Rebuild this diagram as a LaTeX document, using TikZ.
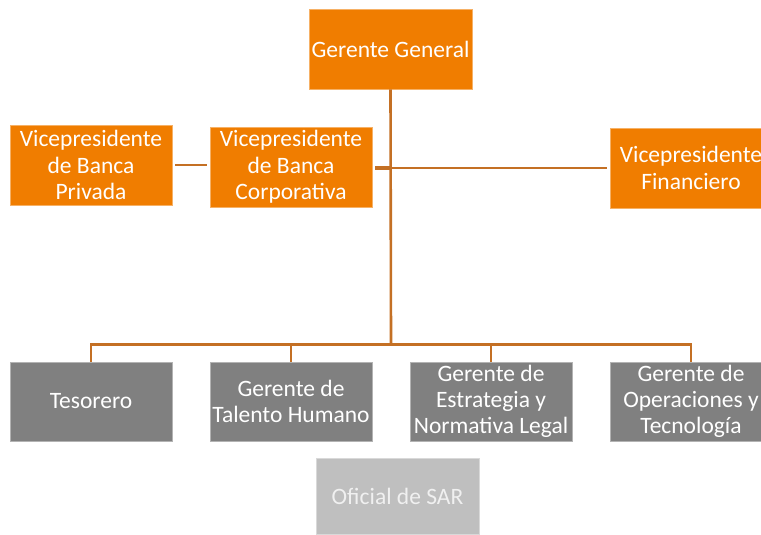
\documentclass[tikz,border=0pt]{standalone}
\usepackage{fontspec}
\setmainfont{Carlito}
\definecolor{boxorange}{RGB}{240,125,0}
\definecolor{boxgray}{RGB}{128,128,128}
\definecolor{boxlight}{RGB}{191,191,191}
\definecolor{linebrown}{RGB}{196,112,36}
\tikzset{
  obox/.style={rectangle, fill=boxorange, draw=boxorange!60!white, line width=0.6pt,
    minimum width=162pt, minimum height=80pt, inner sep=0pt, align=center,
    text=white, font=\fontsize{23.5pt}{26.5pt}\selectfont},
  gbox/.style={rectangle, fill=boxgray, draw=boxgray!60!white, line width=0.6pt,
    minimum width=162pt, minimum height=79pt, inner sep=0pt, align=center,
    text=white, font=\fontsize{23.5pt}{26pt}\selectfont},
  lbox/.style={rectangle, fill=boxlight, draw=boxlight!60!white, line width=0.6pt,
    minimum width=163pt, minimum height=76pt, inner sep=0pt, align=center,
    text=white!94!black, font=\fontsize{23.5pt}{26.5pt}\selectfont},
  conn/.style={draw=linebrown, line width=2.6pt},
}
\begin{document}
\begin{tikzpicture}[x=1pt,y=-1pt]
\useasboundingbox (0,0) rectangle (761,535);
\clip (0,0) rectangle (761,535);
\fill[white] (0,0) rectangle (761,535);
\node[obox, minimum width=163pt] (gg) at (390.5,49) {Gerente General};
\node[obox] (priv) at (91,165) {Vicepresidente\\de Banca\\Privada};
\node[obox] (corp) at (291,167) {Vicepresidente\\de Banca\\Corporativa};
\node[obox] (fin) at (691,168) {Vicepresidente\\Financiero};
\node[gbox] (tes) at (91,401.5) {Tesorero};
\node[gbox] (tal) at (291,401.5) {Gerente de\\Talento Humano};
\node[gbox] (est) at (491,401.5) {Gerente de\\Estrategia y\\Normativa Legal};
\node[gbox] (ope) at (691,401.5) {Gerente de\\Operaciones y\\Tecnología};
\node[lbox] (sar) at (397.5,496) {Oficial de SAR};
\coordinate (bus) at (391,343);
\coordinate (mid) at (391,168);
\draw[conn] (gg.south) -- (bus);
\draw[conn] (tes.north) -- ++(0,-17) -| (ope.north);
\draw[conn] (tal.north) -- ++(0,-17);
\draw[conn] (est.north) -- ++(0,-17);
\draw[conn, line width=3.6pt] (corp.east |- mid) ++(3,0) -- (mid);
\draw[conn] (mid) -- ([xshift=-3pt]fin.west);
\draw[conn, shorten <=3pt, shorten >=3pt] (priv.east) -- (corp.west |- priv.east);
\end{tikzpicture}
\end{document}
